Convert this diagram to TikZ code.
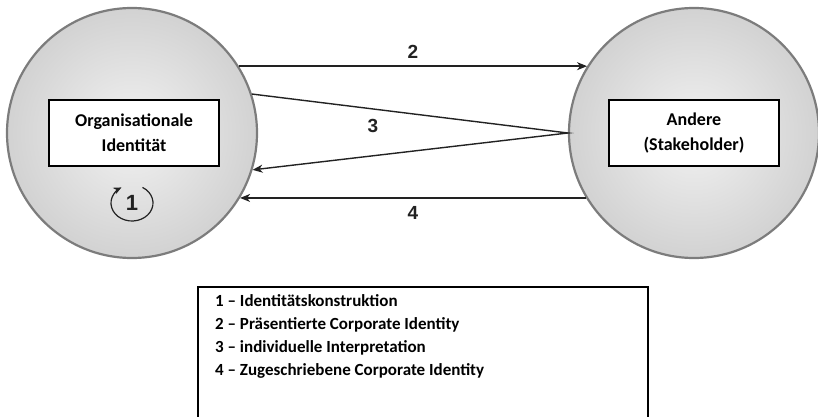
\documentclass[tikz,border=0pt]{standalone}
\usepackage{fontspec}
\setmainfont{Carlito}
\newfontfamily\numfont{Liberation Sans}
\usetikzlibrary{shapes.geometric, arrows.meta}

\definecolor{rimgray}{HTML}{7C7C7C}
\definecolor{ballin}{HTML}{F2F2F2}
\definecolor{ballout}{HTML}{D2D2D2}
\definecolor{inkline}{HTML}{222222}

\tikzstyle{ball} = [circle, minimum size=250pt, inner sep=0pt, draw=rimgray, line width=2.2pt, inner color=ballin, outer color=ballout]
\tikzstyle{namebox} = [rectangle, minimum width=170pt, minimum height=66pt, align=center, draw=black, line width=1.3pt, fill=white, font=\bfseries\fontsize{18}{25}\selectfont]
\tikzstyle{num} = [font=\numfont\bfseries\fontsize{19}{19}\selectfont, text=inkline]
\tikzstyle{arrow} = [line width=1.4pt, draw=inkline, -{Stealth[length=10pt,width=8pt,inset=3pt]}]
\tikzstyle{legframe} = [rectangle, minimum width=450pt, minimum height=140pt, draw=black, line width=1.3pt]
\tikzstyle{legtext} = [align=left, inner sep=0pt, font=\bfseries\fontsize{17}{23}\selectfont]

\begin{document}
\begin{tikzpicture}[x=1pt, y=1pt]
	\useasboundingbox (0,0) rectangle (818,-417);

	\node (org) [ball] at (132,-133) {};
	\node (andere) [ball] at (694,-133) {};
	\node (orgbox) [namebox] at (134,-133) {Organisationale\\Identität};
	\node (anderebox) [namebox] at (694,-133) {Andere\\(Stakeholder)};

	\draw [arrow] (org.32) -- node[num, above=4pt]{2} (andere.148);
	\draw [arrow] (org.18) -- (andere.180) -- (org.-17);
	\draw [arrow] (andere.211) -- node[num, below=4pt]{4} (org.-31);
	\node (n3) [num] at (373,-126) {3};

	\node (n1) [num, font=\numfont\bfseries\fontsize{22}{22}\selectfont] at (132,-203) {1};
	\draw [arrow, line width=1.2pt, -{Stealth[length=8pt,width=7pt,inset=2.5pt]}]
		([shift={(60:21pt and 18pt)}]n1.center) arc[start angle=60, end angle=-240, x radius=21pt, y radius=18pt];

	\node (legend) [legframe] at (423,-357) {};
	\node (legtext) [legtext, anchor=west] at (215,-336.5) {1 – Identitätskonstruktion\\2 – Präsentierte Corporate Identity\\3 – individuelle Interpretation\\4 – Zugeschriebene Corporate Identity};
\end{tikzpicture}
\end{document}
